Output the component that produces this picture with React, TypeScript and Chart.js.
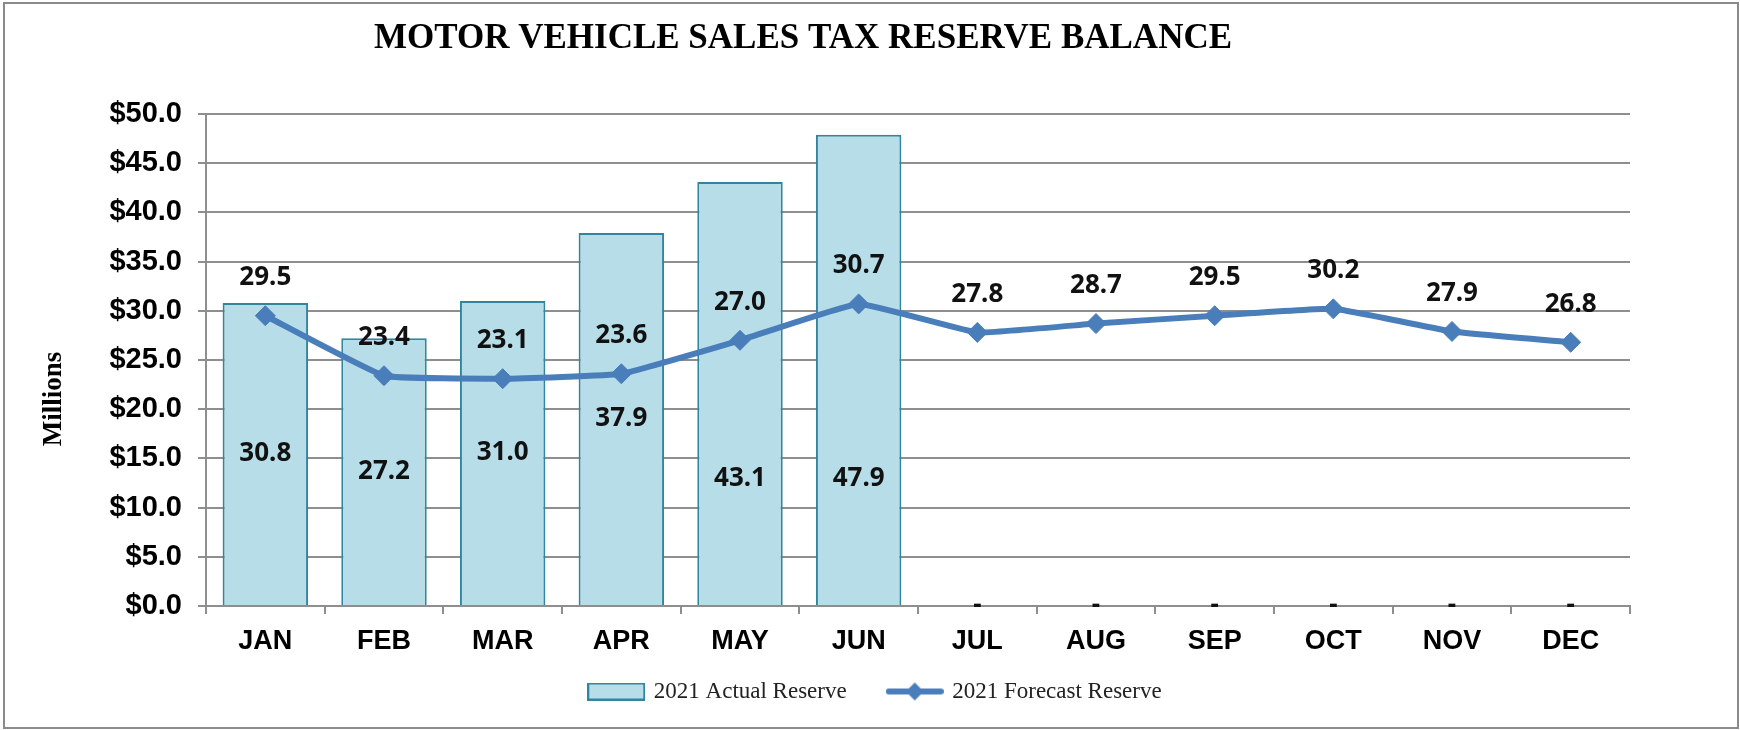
import React, { useEffect, useRef } from "react";
import { Chart, registerables } from "chart.js";

Chart.register(...registerables);

// ---- data ----
const TITLE = "MOTOR VEHICLE SALES TAX RESERVE BALANCE";
const Y_AXIS_TITLE = "Millions";
const MONTHS = ["JAN", "FEB", "MAR", "APR", "MAY", "JUN", "JUL", "AUG", "SEP", "OCT", "NOV", "DEC"];
const ACTUAL_LABEL = "2021 Actual Reserve";
const FORECAST_LABEL = "2021 Forecast Reserve";
const ACTUAL_2021 = [30.8, 27.2, 31.0, 37.9, 43.1, 47.9, 0, 0, 0, 0, 0, 0];
const FORECAST_2021 = [29.5, 23.4, 23.1, 23.6, 27.0, 30.7, 27.8, 28.7, 29.5, 30.2, 27.9, 26.8];
const Y_MIN = 0;
const Y_MAX = 50;
const Y_STEP = 5;

// ---- styles ----
const BAR_FILL = "#b7dee8";
const BAR_BORDER = "#31859c";
const LINE_COLOR = "#4a7ebb";
const GRID_COLOR = "#8e8e8e";
const FRAME_COLOR = "#8a8a8a";
const SERIF = '"Liberation Serif", "Times New Roman", serif';
const SANS = '"Liberation Sans", Arial, sans-serif';
// bar labels sitting just below the line's value label are dropped to this level (axis units)
const LOW_LABEL_LEVEL = 12.9;
const LABEL_NEAR_MIN = 50;
const LABEL_NEAR_MAX = 70;

function makeBoxIcon(): HTMLCanvasElement {
  const c = document.createElement("canvas");
  c.width = 58;
  c.height = 18;
  const ctx = c.getContext("2d")!;
  ctx.fillStyle = BAR_FILL;
  ctx.fillRect(1, 1, 56, 16);
  ctx.strokeStyle = BAR_BORDER;
  ctx.lineWidth = 2;
  ctx.strokeRect(1, 1, 56, 16);
  return c;
}

function makeLineIcon(): HTMLCanvasElement {
  const c = document.createElement("canvas");
  c.width = 58;
  c.height = 22;
  const ctx = c.getContext("2d")!;
  ctx.strokeStyle = LINE_COLOR;
  ctx.lineWidth = 6;
  ctx.lineCap = "round";
  ctx.beginPath();
  ctx.moveTo(3, 11);
  ctx.lineTo(55, 11);
  ctx.stroke();
  ctx.fillStyle = LINE_COLOR;
  ctx.beginPath();
  ctx.moveTo(29, 2);
  ctx.lineTo(38, 11);
  ctx.lineTo(29, 20);
  ctx.lineTo(20, 11);
  ctx.closePath();
  ctx.fill();
  return c;
}

const shiftPlugin = {
  id: "shiftBlocks",
  afterLayout(chart: any) {
    if (chart.titleBlock) {
      chart.titleBlock.left -= 12;
      chart.titleBlock.right -= 12;
    }
    if (chart.legend) {
      chart.legend.left += 61;
      chart.legend.right += 61;
    }
    const xs = chart.scales && chart.scales.x;
    if (xs) {
      // let the month labels overflow into the legend band without being clipped
      xs.bottom += 40;
      xs.height += 40;
    }
  },
};

const framePlugin = {
  id: "frame",
  afterDraw(chart: any) {
    const ctx = chart.ctx;
    const area = chart.chartArea;
    ctx.save();
    ctx.strokeStyle = FRAME_COLOR;
    ctx.lineWidth = 2;
    ctx.strokeRect(4, 3, chart.width - 6, chart.height - 5);
    // rotated y-axis title
    ctx.translate(54, (area.top + area.bottom) / 2 + 39);
    ctx.rotate(-Math.PI / 2);
    ctx.font = `bold 27px ${SERIF}`;
    ctx.fillStyle = "#000000";
    ctx.textAlign = "center";
    ctx.textBaseline = "middle";
    ctx.fillText(Y_AXIS_TITLE, 0, 0);
    ctx.restore();
  },
};

const valueLabelPlugin = {
  id: "valueLabels",
  afterDatasetsDraw(chart: any) {
    const ctx = chart.ctx;
    const yScale = chart.scales.y;
    ctx.save();
    ctx.font = 'bold 26px "Noto Sans"';
    ctx.fillStyle = "#111111";
    ctx.textAlign = "center";
    ctx.textBaseline = "middle";
    const barMeta = chart.getDatasetMeta(0);
    const lineMeta = chart.getDatasetMeta(1);
    barMeta.data.forEach((el: any, i: number) => {
      const v = ACTUAL_2021[i];
      const text = v === 0 ? "-" : v.toFixed(1);
      let y = (el.y + el.base) / 2;
      const pt = lineMeta.data[i];
      if (v !== 0 && pt) {
        const d = Math.abs(y - pt.y);
        if (d > LABEL_NEAR_MIN && d < LABEL_NEAR_MAX) {
          y = yScale.getPixelForValue(LOW_LABEL_LEVEL);
        }
      }
      ctx.fillText(text, el.x, y);
    });
    lineMeta.data.forEach((el: any, i: number) => {
      ctx.fillText(FORECAST_2021[i].toFixed(1), el.x, el.y - 38);
    });
    ctx.restore();
  },
};

export default function App() {
  const canvasRef = useRef<HTMLCanvasElement | null>(null);

  useEffect(() => {
    if (!canvasRef.current) return;
    const boxIcon = makeBoxIcon();
    const lineIcon = makeLineIcon();
    const chart = new Chart(canvasRef.current, {
      type: "bar",
      data: {
        labels: MONTHS,
        datasets: [
          {
            type: "bar",
            label: ACTUAL_LABEL,
            data: ACTUAL_2021,
            backgroundColor: BAR_FILL,
            borderColor: BAR_BORDER,
            borderWidth: (c: any) => (c.raw === 0 ? 0 : 2),
            barPercentage: 0.72,
            categoryPercentage: 1.0,
            order: 2,
          },
          {
            type: "line",
            label: FORECAST_LABEL,
            data: FORECAST_2021,
            borderColor: LINE_COLOR,
            backgroundColor: LINE_COLOR,
            borderWidth: 6,
            pointStyle: "rectRot",
            pointRadius: 10,
            pointBorderWidth: 1,
            pointBackgroundColor: LINE_COLOR,
            pointBorderColor: LINE_COLOR,
            tension: 0.1,
            order: 1,
          } as any,
        ],
      },
      options: {
        responsive: false,
        animation: false,
        devicePixelRatio: 1,
        layout: { padding: { top: 0, left: 0, right: 110, bottom: 17 } },
        plugins: {
          title: {
            display: true,
            text: TITLE,
            color: "#000000",
            font: { family: SERIF, size: 35, weight: "bold" },
            padding: { top: 18, bottom: 54 },
          },
          legend: {
            display: true,
            position: "bottom",
            labels: {
              usePointStyle: true,
              pointStyleWidth: 52,
              boxHeight: 18,
              padding: 42,
              color: "#222222",
              font: { family: SERIF, size: 23 },
              sort: (a: any, b: any) => a.datasetIndex - b.datasetIndex,
              generateLabels: (ch: any) => {
                const items = (Chart.defaults.plugins.legend.labels as any).generateLabels(ch);
                items.forEach((it: any) => {
                  it.pointStyle = it.datasetIndex === 0 ? boxIcon : lineIcon;
                });
                return items;
              },
            },
          },
          tooltip: { enabled: false },
        },
        scales: {
          x: {
            offset: true,
            grid: {
              offset: true,
              drawOnChartArea: false,
              drawTicks: true,
              tickLength: 8,
              color: GRID_COLOR,
              lineWidth: 2,
            },
            border: { color: GRID_COLOR, width: 2 },
            ticks: {
              color: "#000000",
              padding: 11,
              font: { family: SANS, size: 27, weight: "bold" },
            },
            afterFit: (s: any) => {
              s.height = 32;
            },
          },
          y: {
            min: Y_MIN,
            max: Y_MAX,
            ticks: {
              stepSize: Y_STEP,
              color: "#000000",
              padding: 16,
              font: { family: SANS, size: 29, weight: "bold" },
              callback: (v: any) => "$" + Number(v).toFixed(1),
            },
            grid: { color: GRID_COLOR, lineWidth: 2, tickLength: 8 },
            border: { color: GRID_COLOR, width: 2 },
            afterFit: (s: any) => {
              s.width = 206;
            },
          },
        },
      },
      plugins: [valueLabelPlugin, shiftPlugin, framePlugin],
    } as any);
    return () => chart.destroy();
  }, []);

  return (
    <div style={{ position: "absolute", left: 0, top: 0, width: 1740, height: 730, background: "#ffffff" }}>
      <canvas ref={canvasRef} width={1740} height={730} />
    </div>
  );
}
